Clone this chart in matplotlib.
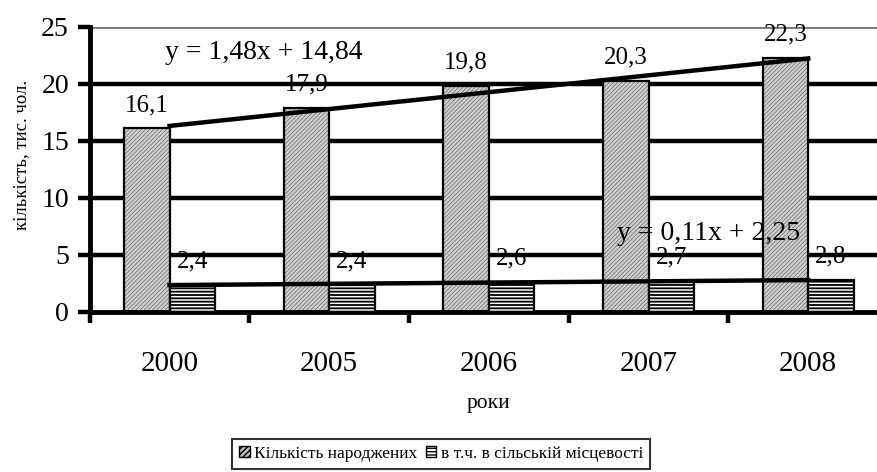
import matplotlib
matplotlib.use('Agg')
import matplotlib.pyplot as plt
from matplotlib.patches import Patch
import numpy as np

plt.rcParams['font.family'] = ['Liberation Serif', 'DejaVu Serif']

years = ['2000', '2005', '2006', '2007', '2008']
born = [16.1, 17.9, 19.8, 20.3, 22.3]
rural = [2.4, 2.4, 2.6, 2.7, 2.8]
born_labels = ['16,1', '17,9', '19,8', '20,3', '22,3']
rural_labels = ['2,4', '2,4', '2,6', '2,7', '2,8']
trend_born = (1.48, 14.84)
trend_rural = (0.11, 2.25)

fig = plt.figure(figsize=(8.77, 4.72), dpi=100)
ax = fig.add_axes([0.1023, 0.339, 0.9103, 0.6038])

x = np.arange(len(years))
w = 0.285

# сітка під стовпчиками
for v in [5, 10, 15, 20]:
    ax.axhline(v, color='black', lw=3.2, zorder=1)
ax.axhline(25, color='#777777', lw=2, zorder=1)

# сірий візерунок + чорний контур окремо
plt.rcParams['hatch.linewidth'] = 0.6
ax.bar(x - w / 2, born, w, color='#cfcfcf', edgecolor='#7a7a7a', hatch='////////', lw=0, zorder=2)
ax.bar(x - w / 2, born, w, color='none', edgecolor='black', lw=1.6, zorder=3)
plt.rcParams['hatch.linewidth'] = 1.3
ax.bar(x + w / 2, rural, w, color='white', edgecolor='black', hatch='-----', lw=1.6, zorder=3)

for i in range(len(x)):
    ax.annotate(born_labels[i], (x[i] - w / 2, born[i]), xytext=(0, 9), textcoords='offset points',
                ha='center', va='bottom', fontsize=18)
    ax.annotate(rural_labels[i], (x[i] + w / 2, rural[i]), xytext=(0, 9), textcoords='offset points',
                ha='center', va='bottom', fontsize=18)

# лінії тренду (x = 1..5)
k = np.arange(1, len(years) + 1)
ax.plot(x, trend_born[0] * k + trend_born[1], color='black', lw=3.2, zorder=4)
ax.plot(x, trend_rural[0] * k + trend_rural[1], color='black', lw=3.2, zorder=4)
ax.text(-0.03, 22.8, 'y = 1,48x + 14,84', fontsize=20, va='center', ha='left', zorder=5)
ax.text(2.80, 6.9, 'y = 0,11x + 2,25', fontsize=20, va='center', ha='left', zorder=5)

ax.set_xlim(-0.5, 4.5)
ax.set_ylim(0, 25)
ax.set_yticks([0, 5, 10, 15, 20, 25])
ax.set_xticks(x)
ax.set_xticklabels(years)
ax.set_xticks(np.arange(-0.5, 5, 1), minor=True)
ax.tick_params(axis='x', which='major', length=0, pad=28, labelsize=21)
ax.tick_params(axis='x', which='minor', length=8, width=3.2, direction='out')
ax.tick_params(axis='y', length=9, width=3.2, direction='out', pad=6, labelsize=20)

for s in ['top', 'right']:
    ax.spines[s].set_visible(False)
ax.spines['left'].set_linewidth(3.5)
ax.spines['bottom'].set_linewidth(3.5)

ax.set_ylabel('кількість, тис. чол.', fontsize=13.5)
ax.yaxis.set_label_coords(-0.075, 0.55)
ax.set_xlabel('роки', fontsize=15.5, labelpad=12)

plt.rcParams['hatch.linewidth'] = 1.0
handles = [Patch(facecolor='#bbbbbb', edgecolor='black', hatch='//////', lw=1),
           Patch(facecolor='white', edgecolor='black', hatch='-----', lw=1)]
leg = fig.legend(handles, ['Кількість народжених', 'в т.ч. в сільській місцевості'],
                 loc='center', bbox_to_anchor=(441 / 877, 1 - 454 / 472), ncol=2,
                 fontsize=12.5, frameon=True, fancybox=False, edgecolor='black',
                 handlelength=0.6, handleheight=0.6, handletextpad=0.25, columnspacing=0.5,
                 borderpad=0.4, borderaxespad=0)
leg.get_frame().set_linewidth(1.5)

fig.savefig('out.png', dpi=100)
